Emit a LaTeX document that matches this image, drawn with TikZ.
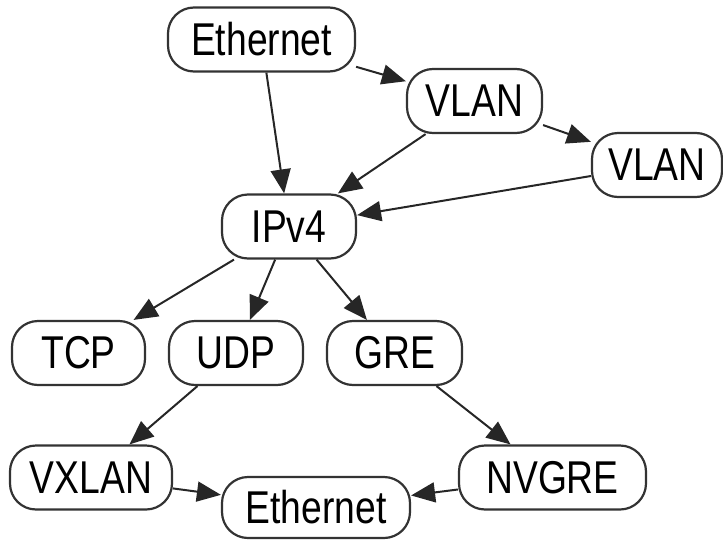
\documentclass[tikz,border=0pt]{standalone}
\usepackage{fontspec}
\setmainfont[FakeStretch=0.81]{Liberation Sans}
\usetikzlibrary{arrows.meta}
\begin{document}
\begin{tikzpicture}[x=1pt,y=-1pt,
  proto/.style={draw=black!80, line width=2.2pt, rounded corners=26pt, minimum height=64pt, inner sep=0pt, font=\fontsize{46}{50}\selectfont},
  link/.style={draw=black!85, line width=2pt, -{Triangle[length=24pt,width=20pt]}}]
\useasboundingbox (0,0) rectangle (723,541);
\node[proto, minimum width=187pt] (eth1) at (261.5,39.5) {Ethernet};
\node[proto, minimum width=135pt] (vlan1) at (474.5,101) {VLAN};
\node[proto, minimum width=130pt] (vlan2) at (657,165) {VLAN};
\node[proto, minimum width=134pt] (ipv4) at (289,226.5) {IPv4};
\node[proto, minimum width=133pt] (tcp) at (78.5,353) {TCP};
\node[proto, minimum width=134pt] (udp) at (236,353) {UDP};
\node[proto, minimum width=135pt] (gre) at (394.5,353) {GRE};
\node[proto, minimum width=162pt] (vxlan) at (91,477.5) {VXLAN};
\node[proto, minimum width=188pt, minimum height=61pt] (eth2) at (316,507.5) {Ethernet};
\node[proto, minimum width=187pt] (nvgre) at (552.5,477.5) {NVGRE};
\draw[link] (eth1) -- (vlan1);
\draw[link] (eth1) -- (ipv4);
\draw[link] (vlan1) -- (ipv4);
\draw[link] (vlan1) -- (vlan2);
\draw[link] (vlan2) -- (ipv4);
\draw[link] (ipv4) -- (tcp);
\draw[link] (ipv4) -- (udp);
\draw[link] (ipv4) -- (gre);
\draw[link] (udp) -- (vxlan);
\draw[link] (gre) -- (nvgre);
\draw[link] (vxlan) -- (eth2);
\draw[link] (nvgre) -- (eth2);
\end{tikzpicture}
\end{document}
